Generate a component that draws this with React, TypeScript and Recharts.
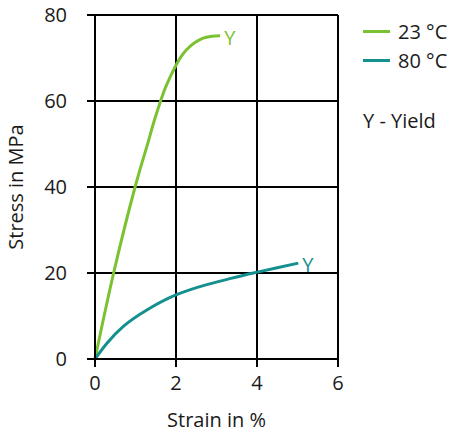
import {
  CartesianGrid,
  Label,
  Line,
  LineChart,
  XAxis,
  YAxis,
} from "recharts";

const strain23 = [0, 0.46, 0.99, 1.28, 1.44, 1.62, 1.77, 2.0, 2.26, 2.67, 3.09];
const stress23 = [0, 20, 40, 49.4, 54.7, 60, 63.8, 68.3, 71.9, 74.6, 75.2];

const strain80 = [0, 0.29, 0.7, 1.28, 2.0, 2.76, 3.33, 3.91, 4.5, 5.02];
const stress80 = [0, 3.6, 7.6, 11.4, 14.9, 17.3, 18.7, 20, 21.2, 22.3];

const seriesNames = ["23 °C", "80 °C"];
const xTicks = [0, 2, 4, 6];
const yTicks = [0, 20, 40, 60, 80];

const GREEN = "#7ac231";
const TEAL = "#14908f";
const FONT = "'Open Sans', 'Noto Sans', sans-serif";

const rows23 = strain23.map((x, i) => ({ x, y: stress23[i] }));
const rows80 = strain80.map((x, i) => ({ x, y: stress80[i] }));

function yieldMark(color: string, last: number) {
  return (p: any) => {
    if (p.index !== last) return null;
    return (
      <text
        key="yield"
        x={p.x + 4}
        y={p.y + 4}
        dominantBaseline="middle"
        fill={color}
        fontSize={20}
        fontFamily={FONT}
      >
        Y
      </text>
    );
  };
}

// legend sits outside the svg so it doesn't eat into the plot width
function LegendBox() {
  const colors = [GREEN, TEAL];
  return (
    <div
      style={{
        position: "absolute",
        left: 363,
        top: 17,
        fontFamily: FONT,
        fontSize: 20,
        color: "#1a1a1a",
      }}
    >
      {seriesNames.map((name, i) => (
        <div key={name} style={{ display: "flex", alignItems: "center", height: 29 }}>
          <span style={{ width: 27, height: 3, background: colors[i], marginRight: 8 }} />
          <span>{name}</span>
        </div>
      ))}
      <div style={{ marginTop: 32 }}>Y - Yield</div>
    </div>
  );
}

export default function App() {
  const tick = { fill: "#1a1a1a", fontSize: 20, fontFamily: FONT };
  return (
    <div style={{ position: "absolute", left: 0, top: 0, width: 453, height: 433, background: "#fff" }}>
      <LineChart width={453} height={433} margin={{ top: 15, right: 115, bottom: 0, left: 0 }}>
        <CartesianGrid stroke="#000" strokeWidth={2} horizontalValues={yTicks} verticalValues={xTicks} />
        <XAxis
          type="number"
          dataKey="x"
          domain={[0, 6]}
          ticks={xTicks}
          height={74}
          stroke="#000"
          strokeWidth={2}
          tickSize={8}
          tickMargin={9}
          tick={tick}
        >
          <Label
            value="Strain in %"
            position="insideBottom"
            offset={6}
            style={{ fill: "#1a1a1a", fontSize: 20, fontFamily: FONT }}
          />
        </XAxis>
        <YAxis
          type="number"
          dataKey="y"
          domain={[0, 80]}
          ticks={yTicks}
          width={95}
          stroke="#000"
          strokeWidth={2}
          tickSize={8}
          tickMargin={20}
          tick={tick}
        >
          <Label
            content={(props: any) => {
              const vb = props.viewBox;
              const cy = vb.y + vb.height / 2;
              return (
                <text
                  x={18}
                  y={cy}
                  transform={`rotate(-90, 18, ${cy})`}
                  textAnchor="middle"
                  dominantBaseline="middle"
                  fill="#1a1a1a"
                  fontSize={20}
                  fontFamily={FONT}
                >
                  Stress in MPa
                </text>
              );
            }}
          />
        </YAxis>
        <Line
          data={rows23}
          dataKey="y"
          name={seriesNames[0]}
          type="natural"
          stroke={GREEN}
          strokeWidth={3}
          dot={false}
          isAnimationActive={false}
          label={yieldMark(GREEN, rows23.length - 1)}
        />
        <Line
          data={rows80}
          dataKey="y"
          name={seriesNames[1]}
          type="natural"
          stroke={TEAL}
          strokeWidth={3}
          dot={false}
          isAnimationActive={false}
          label={yieldMark(TEAL, rows80.length - 1)}
        />
      </LineChart>
      <LegendBox />
    </div>
  );
}
